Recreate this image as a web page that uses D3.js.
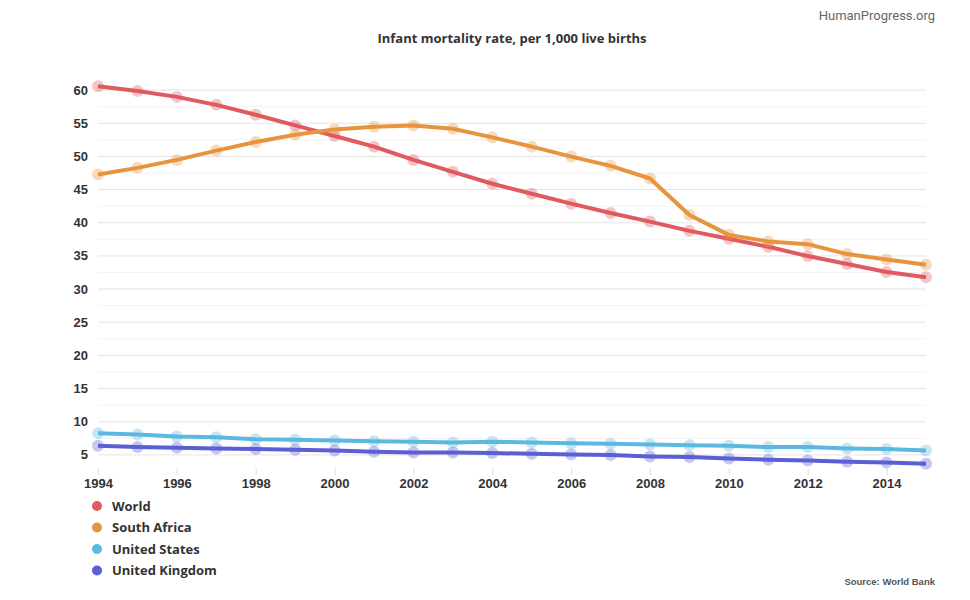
<!DOCTYPE html>
<html>
<head>
<meta charset="utf-8">
<script src="https://cdn.jsdelivr.net/npm/d3@7"></script>
<style>
  html, body { margin: 0; padding: 0; background: #fff; }
  svg { display: block; font-family: "Open Sans", sans-serif; }
  .grid line { stroke: #e3e3e3; }
  .grid.minor line { stroke: #f2f2f2; }
  .grid .domain { display: none; }
  .axis .domain { display: none; }
  .axis text { font-size: 13px; font-weight: 700; fill: #333; }
</style>
</head>
<body>
<svg id="chart" width="970" height="600"></svg>
<script>
// Infant mortality rate, per 1,000 live births (World Bank)
const years = d3.range(1994, 2016);
const world = [60.5, 59.8, 58.9, 57.7, 56.2, 54.6, 53.0, 51.4, 49.4, 47.6, 45.8,
  44.3, 42.8, 41.4, 40.1, 38.7, 37.5, 36.3, 34.9, 33.7, 32.5, 31.7];
const southAfrica = [47.2, 48.2, 49.4, 50.8, 52.1, 53.2, 54.0, 54.4, 54.6, 54.1, 52.8,
  51.4, 49.9, 48.5, 46.6, 41.1, 38.1, 37.1, 36.7, 35.2, 34.4, 33.6];
const unitedStates = [8.2, 8.0, 7.7, 7.6, 7.3, 7.2, 7.1, 7.0, 6.9, 6.8, 6.9,
  6.8, 6.7, 6.6, 6.5, 6.4, 6.3, 6.1, 6.1, 5.9, 5.8, 5.6];
const unitedKingdom = [6.3, 6.1, 6.0, 5.9, 5.8, 5.7, 5.6, 5.4, 5.3, 5.3, 5.2,
  5.1, 5.0, 4.9, 4.7, 4.6, 4.4, 4.2, 4.1, 3.9, 3.8, 3.6];
const seriesNames = ["World", "South Africa", "United States", "United Kingdom"];
const colors = ["#e05a5f", "#e8943f", "#5bb8e0", "#5b5fd4"];
const yTicks = [5, 10, 15, 20, 25, 30, 35, 40, 45, 50, 55, 60];
const yMinor = [7.5, 12.5, 17.5, 22.5, 27.5, 32.5, 37.5, 42.5, 47.5, 52.5, 57.5];
const xTicks = d3.range(1994, 2016, 2);

const series = [world, southAfrica, unitedStates, unitedKingdom].map((vals, i) => ({
  name: seriesNames[i], color: colors[i],
  pts: vals.map((v, j) => ({ year: years[j], v }))
}));

const svg = d3.select("#chart");
const margin = { top: 73, right: 44, bottom: 129, left: 98 };
const width = 970, height = 600;
const x = d3.scaleLinear().domain([1994, 2015]).range([margin.left, width - margin.right]);
const y = d3.scaleLinear().domain([2.5, 62.5]).range([height - margin.bottom, margin.top]);

// minor + major grid
svg.append("g").attr("class", "grid minor").attr("transform", `translate(${margin.left},0)`)
  .call(d3.axisLeft(y).tickValues(yMinor).tickSize(-(width - margin.left - margin.right)).tickFormat(""));
svg.append("g").attr("class", "grid").attr("transform", `translate(${margin.left},0)`)
  .call(d3.axisLeft(y).tickValues(yTicks).tickSize(-(width - margin.left - margin.right)).tickFormat(""));

// axes
svg.append("g").attr("class", "axis").attr("transform", `translate(${margin.left - 10},0)`)
  .call(d3.axisLeft(y).tickValues(yTicks).tickSize(0).tickPadding(0))
  .selectAll("text").attr("dy", "0.35em");
const xa = svg.append("g").attr("class", "axis").attr("transform", `translate(0,${height - margin.bottom})`)
  .call(d3.axisBottom(x).tickValues(xTicks).tickFormat(d3.format("d")).tickSize(4).tickPadding(4));
xa.selectAll(".tick line").attr("stroke", "#ddd").attr("y1", -3);

// lines + markers
const line = d3.line().x(d => x(d.year)).y(d => y(d.v));
series.forEach(s => {
  svg.append("path").datum(s.pts).attr("fill", "none").attr("stroke", s.color)
    .attr("stroke-width", 4).attr("stroke-linejoin", "round").attr("d", line);
  svg.append("g").selectAll("circle").data(s.pts).join("circle")
    .attr("cx", d => x(d.year)).attr("cy", d => y(d.v)).attr("r", 6)
    .attr("fill", s.color).attr("fill-opacity", 0.35);
});

// title
svg.append("text").attr("x", 512).attr("y", 43).attr("text-anchor", "middle")
  .attr("font-size", 13).attr("font-weight", 700).attr("fill", "#333")
  .text("Infant mortality rate, per 1,000 live births");
svg.append("text").attr("x", 935).attr("y", 20).attr("text-anchor", "end")
  .attr("font-family", "Roboto, sans-serif").attr("font-size", 13).attr("fill", "#666")
  .text("HumanProgress.org");
svg.append("text").attr("x", 935).attr("y", 585).attr("text-anchor", "end")
  .attr("font-family", "'Liberation Sans', sans-serif").attr("font-size", 9.5).attr("font-weight", 700).attr("fill", "#555")
  .text("Source: World Bank");

// legend
const lg = svg.append("g").selectAll("g").data(series).join("g")
  .attr("transform", (d, i) => `translate(97,${506 + i * 21.5})`);
lg.append("circle").attr("r", 5).attr("fill", d => d.color);
lg.append("text").attr("x", 15).attr("dy", "0.35em").attr("font-size", 13)
  .attr("font-weight", 700).attr("fill", "#333").text(d => d.name);
</script>
</body>
</html>
